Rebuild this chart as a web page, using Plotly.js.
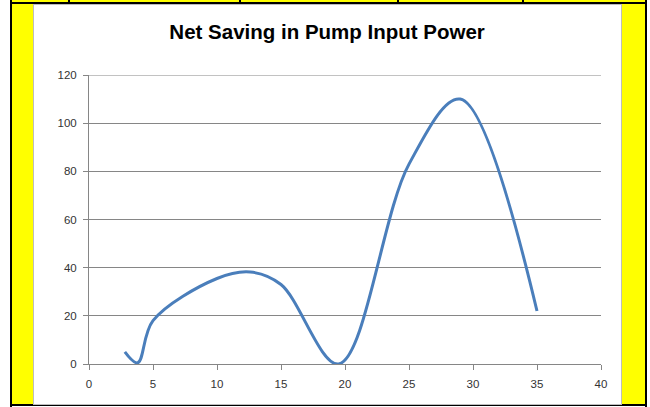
<!DOCTYPE html>
<html>
<head>
<meta charset="utf-8">
<script src="https://cdn.plot.ly/plotly-3.0.1.min.js"></script>
<style>
  html, body { margin: 0; padding: 0; background: #ffffff; }
  #wrap { position: relative; width: 650px; height: 407px; overflow: hidden; }
  .abs { position: absolute; }
  #chart { position: absolute; left: 0; top: 0; width: 650px; height: 407px; }
</style>
</head>
<body>
<div id="wrap">
  <div class="abs" style="left:12px;top:0;width:633px;height:405px;background:#ffff00;"></div>
  <div class="abs" style="left:10px;top:0;width:2px;height:407px;background:#000;"></div>
  <div class="abs" style="left:645px;top:0;width:2px;height:407px;background:#000;"></div>
  <div class="abs" style="left:10px;top:2px;width:637px;height:2px;background:#000;"></div>
  <div class="abs" style="left:10px;top:404px;width:637px;height:2px;background:#000;"></div>
  <div class="abs" style="left:68px;top:0;width:2px;height:3px;background:#000;"></div>
  <div class="abs" style="left:239px;top:0;width:2px;height:3px;background:#000;"></div>
  <div class="abs" style="left:397px;top:0;width:2px;height:3px;background:#000;"></div>
  <div class="abs" style="left:522px;top:0;width:2px;height:3px;background:#000;"></div>
  <div class="abs" style="left:33px;top:4px;width:587px;height:399px;background:#fff;border:1px solid #bdbdbd;"></div>
  <div id="chart"></div>
</div>
<script>
const chartTitle = "Net Saving in Pump Input Power";
const flowX = [2.8, 3.8, 5, 10, 12.6, 15, 19.5, 25, 29, 35];
const savingY = [5, 0.5, 18, 35.5, 38.2, 33, 0, 83, 110, 22];
const xTickVals = [0, 5, 10, 15, 20, 25, 30, 35, 40];
const yTickVals = [0, 20, 40, 60, 80, 100, 120];

const trace = {
  x: flowX,
  y: savingY,
  type: 'scatter',
  mode: 'lines',
  line: { color: '#4a7ebb', width: 3, shape: 'spline', smoothing: 1 },
  hoverinfo: 'skip'
};

const axisCommon = {
  showline: true,
  linecolor: '#868686',
  linewidth: 1,
  ticks: 'outside',
  ticklen: 5,
  tickcolor: '#868686',
  tickwidth: 1,
  tickfont: { family: 'Liberation Sans, Arial, sans-serif', size: 11.5, color: '#333333' },
  zeroline: false,
  fixedrange: true
};

const yMax = yTickVals[yTickVals.length - 1];

const layout = {
  width: 650,
  height: 407,
  paper_bgcolor: 'rgba(0,0,0,0)',
  plot_bgcolor: 'rgba(0,0,0,0)',
  margin: { l: 89, r: 49, t: 75, b: 43, pad: 0 },
  showlegend: false,
  title: {
    text: '<b>' + chartTitle + '</b>',
    font: { family: 'Liberation Sans, Arial, sans-serif', size: 20.5, color: '#000' },
    x: 0.465, xref: 'paper', xanchor: 'center',
    y: 0.922, yref: 'container', yanchor: 'middle'
  },
  xaxis: Object.assign({}, axisCommon, {
    range: [0, 40],
    tickmode: 'array',
    tickvals: xTickVals,
    ticktext: xTickVals.map(String),
    showgrid: false,
    ticklabelstandoff: 4
  }),
  yaxis: Object.assign({}, axisCommon, {
    range: [0, yMax],
    tickmode: 'array',
    tickvals: yTickVals,
    ticktext: yTickVals.map(String),
    showgrid: true,
    gridcolor: '#868686',
    gridwidth: 1,
    ticklabelstandoff: 4
  }),
  shapes: [{
    type: 'line', xref: 'paper', yref: 'y',
    x0: 0, x1: 1, y0: yMax, y1: yMax,
    line: { color: '#868686', width: 1 },
    layer: 'below'
  }]
};

Plotly.newPlot('chart', [trace], layout, { staticPlot: true, displayModeBar: false });
</script>
</body>
</html>
